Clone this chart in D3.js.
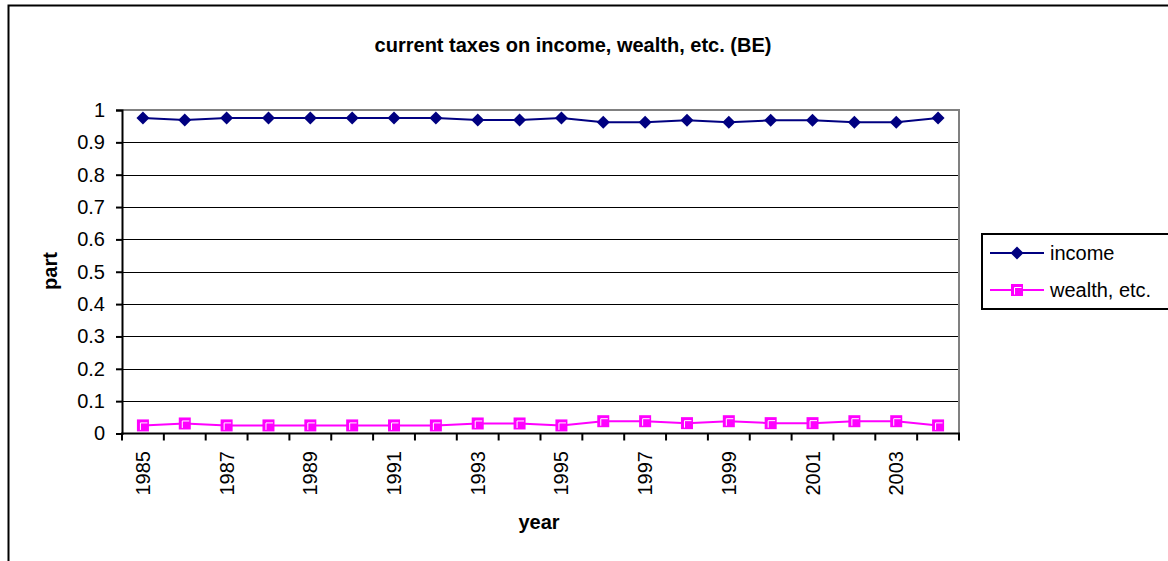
<!DOCTYPE html>
<html>
<head>
<meta charset="utf-8">
<script src="https://cdn.jsdelivr.net/npm/d3@7"></script>
<style>
  html, body { margin: 0; padding: 0; background: #fff; }
  svg { display: block; font-family: "Liberation Sans", Arial, sans-serif; }
</style>
</head>
<body>
<svg id="chart" width="1168" height="561"></svg>
<script>
// Share of current taxes on income vs. wealth etc., Belgium
const years = [1985, 1986, 1987, 1988, 1989, 1990, 1991, 1992, 1993, 1994,
               1995, 1996, 1997, 1998, 1999, 2000, 2001, 2002, 2003, 2004];
const income = [0.975, 0.969, 0.975, 0.975, 0.975, 0.975, 0.975, 0.975, 0.969, 0.969,
                0.975, 0.962, 0.962, 0.968, 0.962, 0.968, 0.968, 0.962, 0.962, 0.975];
const wealth = [0.025, 0.031, 0.025, 0.025, 0.025, 0.025, 0.025, 0.025, 0.031, 0.031,
                0.025, 0.038, 0.038, 0.032, 0.038, 0.032, 0.032, 0.038, 0.038, 0.025];
const yTicks = [0, 0.1, 0.2, 0.3, 0.4, 0.5, 0.6, 0.7, 0.8, 0.9, 1];
const seriesNames = ["income", "wealth, etc."];

const FS = 20;
const svg = d3.select("#chart");

// outer chart frame
svg.append("rect")
  .attr("x", 8.5).attr("y", 5.5)
  .attr("width", 1200).attr("height", 600)
  .attr("fill", "#fff").attr("stroke", "#000").attr("stroke-width", 2);

const plot = { left: 122, top: 110, right: 959, bottom: 433.5 };

const x = d3.scalePoint().domain(years).range([plot.left, plot.right]).padding(0.5);
const y = d3.scaleLinear().domain([0, 1]).range([plot.bottom, plot.top]);

// gridlines
svg.append("g")
  .selectAll("line")
  .data(yTicks.filter(t => t > 0 && t < 1))
  .join("line")
  .attr("x1", plot.left).attr("x2", plot.right)
  .attr("y1", d => Math.round(y(d)) + 0.5).attr("y2", d => Math.round(y(d)) + 0.5)
  .attr("stroke", "#000").attr("stroke-width", 1);

// plot area border (top / right)
svg.append("path")
  .attr("d", `M${plot.left},${plot.top} H${plot.right} V${plot.bottom}`)
  .attr("fill", "none").attr("stroke", "#808080").attr("stroke-width", 2);

// y axis
const yAxis = d3.axisLeft(y).tickValues(yTicks).tickSize(6).tickPadding(11)
  .tickFormat(d => d3.format("")(+d.toFixed(1)));
const gy = svg.append("g").attr("transform", `translate(${plot.left},0)`).call(yAxis);
gy.select(".domain").attr("stroke", "#000").attr("stroke-width", 2);
gy.selectAll(".tick line").attr("stroke", "#000").attr("stroke-width", 2);
gy.selectAll(".tick text").attr("font-size", FS).attr("fill", "#000")
  .attr("font-family", "Liberation Sans, Arial, sans-serif");

// x axis: ticks between categories, labels every other year
const xb = d3.scaleLinear().domain([0, years.length]).range([plot.left, plot.right]);
const gx = svg.append("g").attr("transform", `translate(0,${plot.bottom})`);
gx.append("line").attr("x1", plot.left - 1).attr("x2", plot.right + 1)
  .attr("stroke", "#000").attr("stroke-width", 2);
gx.selectAll("line.tk")
  .data(d3.range(years.length + 1))
  .join("line").attr("class", "tk")
  .attr("x1", d => xb(d)).attr("x2", d => xb(d))
  .attr("y1", 0).attr("y2", 7)
  .attr("stroke", "#000").attr("stroke-width", 2);
gx.selectAll("text")
  .data(years.filter((d, i) => i % 2 === 0))
  .join("text")
  .attr("transform", d => `translate(${x(d) + 7},17.5) rotate(-90)`)
  .attr("text-anchor", "end")
  .attr("font-size", FS)
  .text(d => d);

// series
const lineGen = d3.line().x((d, i) => x(years[i])).y(d => y(d));

svg.append("path").datum(income)
  .attr("d", lineGen).attr("fill", "none")
  .attr("stroke", "#000080").attr("stroke-width", 2);
svg.append("path").datum(wealth)
  .attr("d", lineGen).attr("fill", "none")
  .attr("stroke", "#FF00FF").attr("stroke-width", 2);

function diamond(g, cx, cy) {
  g.append("path")
    .attr("d", `M${cx},${cy - 6.5} L${cx + 6.5},${cy} L${cx},${cy + 6.5} L${cx - 6.5},${cy} Z`)
    .attr("fill", "#000080");
}
function square(g, cx, cy) {
  g.append("rect").attr("x", cx - 6).attr("y", cy - 6)
    .attr("width", 12).attr("height", 12).attr("fill", "#FF00FF");
  g.append("path")
    .attr("d", `M${cx - 2.5},${cy + 4.5} V${cy - 2.5} H${cx + 4.5}`)
    .attr("fill", "none").attr("stroke", "#fff").attr("stroke-width", 1);
}

const gm = svg.append("g");
income.forEach((v, i) => diamond(gm, x(years[i]), y(v)));
wealth.forEach((v, i) => square(gm, x(years[i]), y(v)));

// title and axis titles
svg.append("text").attr("x", 573).attr("y", 52)
  .attr("text-anchor", "middle").attr("font-size", FS).attr("font-weight", "bold")
  .text("current taxes on income, wealth, etc. (BE)");
svg.append("text").attr("x", 539).attr("y", 529)
  .attr("text-anchor", "middle").attr("font-size", FS).attr("font-weight", "bold")
  .text("year");
svg.append("text")
  .attr("transform", `translate(57,271) rotate(-90)`)
  .attr("text-anchor", "middle").attr("font-size", FS).attr("font-weight", "bold")
  .text("part");

// legend
const lg = svg.append("g");
lg.append("rect").attr("x", 982).attr("y", 234).attr("width", 220).attr("height", 75)
  .attr("fill", "#fff").attr("stroke", "#000").attr("stroke-width", 2);
const rows = [
  { name: seriesNames[0], color: "#000080", y: 253, mark: diamond },
  { name: seriesNames[1], color: "#FF00FF", y: 290, mark: square }
];
rows.forEach(r => {
  lg.append("line").attr("x1", 990).attr("x2", 1044).attr("y1", r.y).attr("y2", r.y)
    .attr("stroke", r.color).attr("stroke-width", 2);
  r.mark(lg, 1017, r.y);
  lg.append("text").attr("x", 1050).attr("y", r.y + 7)
    .attr("font-size", FS).text(r.name);
});
</script>
</body>
</html>
